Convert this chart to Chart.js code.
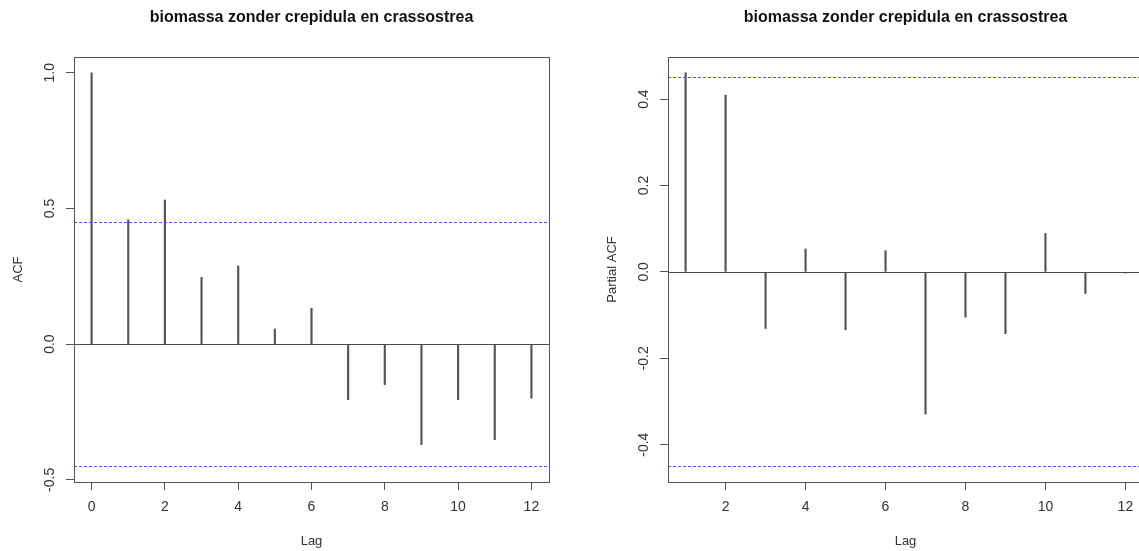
<!DOCTYPE html>
<html>
<head>
<meta charset="utf-8">
<script src="https://cdn.jsdelivr.net/npm/chart.js@4.4.1/dist/chart.umd.min.js"></script>
<style>
  html, body { margin: 0; padding: 0; background: #fff; overflow: hidden; }
  #wrap { position: relative; width: 1139px; height: 551px; overflow: hidden; }
  canvas { position: absolute; top: 0; }
</style>
</head>
<body>
<div id="wrap">
  <canvas id="acfChart" width="623" height="551" style="left:0"></canvas>
  <canvas id="pacfChart" width="623" height="551" style="left:594px"></canvas>
</div>
<script>
const titleText = 'biomassa zonder crepidula en crassostrea';

// ACF (left)
const acfLags = [0, 1, 2, 3, 4, 5, 6, 7, 8, 9, 10, 11, 12];
const acfValues = [1.0, 0.458, 0.531, 0.246, 0.288, 0.056, 0.132, -0.205, -0.149, -0.370, -0.205, -0.352, -0.199];
const acfXTicks = [0, 2, 4, 6, 8, 10, 12];
const acfYTicks = [-0.5, 0.0, 0.5, 1.0];

// PACF (right)
const pacfLags = [1, 2, 3, 4, 5, 6, 7, 8, 9, 10, 11, 12];
const pacfValues = [0.461, 0.409, -0.131, 0.053, -0.134, 0.049, -0.329, -0.105, -0.143, 0.089, -0.050, -0.003];
const pacfXTicks = [2, 4, 6, 8, 10, 12];
const pacfYTicks = [-0.4, -0.2, 0.0, 0.2, 0.4];

// confidence bound (dashed blue)
const ciLimit = 0.45;

const FONT = "'Liberation Sans', Arial, sans-serif";

// R style axis range: data range stretched by 4%
function rRange(vals) {
    const lo = Math.min(...vals), hi = Math.max(...vals);
    const d = (hi - lo) * 0.04;
    return [lo - d, hi + d];
}

const crisp = v => Math.round(v) + 0.5;

const rLines = {
    id: 'rLines',
    afterDatasetsDraw(chart) {
        const {ctx, chartArea: a, scales: {y}} = chart;
        ctx.save();
        ctx.lineWidth = 1;
        ctx.strokeStyle = '#4a4a4a';
        const y0 = crisp(y.getPixelForValue(0));
        ctx.beginPath();
        ctx.moveTo(a.left, y0);
        ctx.lineTo(a.right, y0);
        ctx.stroke();

        ctx.strokeStyle = '#4d4dff';
        ctx.setLineDash([3, 2]);
        [ciLimit, -ciLimit].forEach(v => {
            const py = crisp(y.getPixelForValue(v));
            ctx.beginPath();
            ctx.moveTo(a.left, py);
            ctx.lineTo(a.right, py);
            ctx.stroke();
        });
        ctx.setLineDash([]);

        ctx.strokeStyle = '#555';
        ctx.strokeRect(crisp(a.left), crisp(a.top), Math.round(a.width), Math.round(a.height));
        ctx.restore();
    }
};

function makeChart(id, lags, values, xTicks, yTicks, yLabel) {
    const xr = rRange(lags);
    const yr = rRange(values.concat([ciLimit, -ciLimit]));
    return new Chart(document.getElementById(id).getContext('2d'), {
        type: 'bar',
        data: {
            datasets: [{
                data: lags.map((l, i) => ({x: l, y: values[i]})),
                backgroundColor: '#555',
                barThickness: 1.5
            }]
        },
        options: {
            responsive: false,
            animation: false,
            layout: { padding: 0 },
            plugins: {
                legend: { display: false },
                tooltip: { enabled: false },
                title: {
                    display: true,
                    text: titleText,
                    color: '#111',
                    font: { family: FONT, size: 16, weight: 'bold' },
                    padding: { top: 8, bottom: 29.8 }
                }
            },
            scales: {
                x: {
                    type: 'linear',
                    min: xr[0],
                    max: xr[1],
                    offset: false,
                    afterBuildTicks: s => { s.ticks = xTicks.map(v => ({value: v})); },
                    afterFit: s => { s.height = 69; },
                    grid: { offset: false, drawOnChartArea: false, color: '#555', tickLength: 8 },
                    border: { display: false },
                    ticks: { color: '#333', font: { family: FONT, size: 14 }, padding: 9, maxRotation: 0 },
                    title: { display: true, text: 'Lag', color: '#333', font: { family: FONT, size: 13 }, padding: { top: 0, bottom: 2 } }
                },
                y: {
                    min: yr[0],
                    max: yr[1],
                    afterBuildTicks: s => { s.ticks = yTicks.map(v => ({value: v})); },
                    afterFit: s => { s.width = 74; },
                    grid: { drawOnChartArea: false, color: '#555', tickLength: 8 },
                    border: { display: false },
                    ticks: {
                        color: '#333',
                        font: { family: FONT, size: 14 },
                        minRotation: 90,
                        maxRotation: 90,
                        crossAlign: 'center',
                        padding: 4,
                        callback: v => v.toFixed(1)
                    },
                    title: { display: true, text: yLabel, color: '#333', font: { family: FONT, size: 13 }, padding: { top: 11, bottom: 0 } }
                },
                // empty right margin, keeps the title centred over the plot box
                yPad: {
                    position: 'right',
                    afterFit: s => { s.width = 74; },
                    grid: { display: false },
                    border: { display: false },
                    ticks: { display: false }
                }
            }
        },
        plugins: [rLines]
    });
}

makeChart('acfChart', acfLags, acfValues, acfXTicks, acfYTicks, 'ACF');
makeChart('pacfChart', pacfLags, pacfValues, pacfXTicks, pacfYTicks, 'Partial ACF');
</script>
</body>
</html>
